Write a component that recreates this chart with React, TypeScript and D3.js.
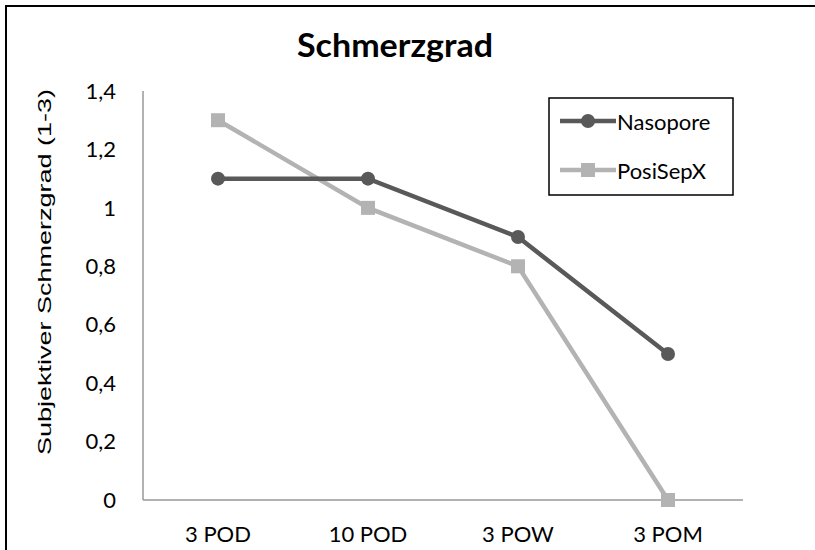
import React from 'react';
import * as d3 from 'd3';

const categories = ['3 POD', '10 POD', '3 POW', '3 POM'];
const nasopore = [1.1, 1.1, 0.9, 0.5];
const posiSepX = [1.3, 1.0, 0.8, 0.0];
const yTicks = [0, 0.2, 0.4, 0.6, 0.8, 1, 1.2, 1.4];

const width = 815;
const height = 550;
const margin = { top: 91, right: 72, bottom: 50, left: 143 };
const calibri = 'Lato, "Open Sans", sans-serif';

const App = () => {
  const x = d3.scaleBand<string>()
    .domain(categories)
    .range([margin.left, width - margin.right]);
  const y = d3.scaleLinear()
    .domain([0, 1.4])
    .range([height - margin.bottom, margin.top]);

  const cx = (c: string) => (x(c) as number) + x.bandwidth() / 2;
  const line = d3.line<number>()
    .x((_, i) => cx(categories[i]))
    .y(d => y(d));

  // Excel style decimal comma
  const fmt = (v: number) => (v === 0 || v === 1 ? String(v) : v.toFixed(1).replace('.', ','));

  const dark = '#595959';
  const light = '#b3b3b3';

  return (
    <svg width={width} height={height} style={{ position: 'absolute', left: 0, top: 0 }}>
      <rect x={6} y={6} width={width + 10} height={height + 10} fill="white" stroke="black" strokeWidth={2} />
      <text x={395} y={57} textAnchor="middle" fontFamily={calibri} fontWeight="bold" fontSize={33}
        textLength={196} lengthAdjust="spacingAndGlyphs" fill="black">
        Schmerzgrad
      </text>

      {/* axes */}
      <line x1={margin.left} x2={margin.left} y1={y(1.4)} y2={y(0)} stroke="#999" strokeWidth={1.5} />
      <line x1={margin.left} x2={width - margin.right} y1={y(0)} y2={y(0)} stroke="#999" strokeWidth={1.5} />

      {yTicks.map(t => (
        <text key={t} x={116} y={y(t)} dy="0.35em" textAnchor="end" fontFamily={calibri} fontSize={22} fill="black">
          {fmt(t)}
        </text>
      ))}
      {categories.map(c => (
        <text key={c} x={cx(c)} y={y(0) + 42} textAnchor="middle" fontFamily={calibri} fontSize={22} fill="black">
          {c}
        </text>
      ))}

      <text
        transform={`translate(51,272) rotate(-90)`}
        textAnchor="middle"
        fontFamily='"Liberation Sans", Arial, sans-serif'
        fontSize={19}
        textLength={366}
        lengthAdjust="spacingAndGlyphs"
        fill="black"
      >
        Subjektiver Schmerzgrad (1-3)
      </text>

      {/* series */}
      <path d={line(posiSepX) ?? ''} fill="none" stroke={light} strokeWidth={4.5} />
      {posiSepX.map((v, i) => (
        <rect key={i} x={cx(categories[i]) - 7} y={y(v) - 7} width={14} height={14} fill={light} />
      ))}
      <path d={line(nasopore) ?? ''} fill="none" stroke={dark} strokeWidth={4.5} />
      {nasopore.map((v, i) => (
        <circle key={i} cx={cx(categories[i])} cy={y(v)} r={7} fill={dark} />
      ))}

      {/* legend */}
      <rect x={549} y={98} width={184} height={97} fill="white" stroke="black" strokeWidth={1.5} />
      <line x1={560} x2={616} y1={121} y2={121} stroke={dark} strokeWidth={4.5} />
      <circle cx={588} cy={121} r={7} fill={dark} />
      <text x={617} y={122} dy="0.35em" fontFamily={calibri} fontSize={22} fill="black">Nasopore</text>
      <line x1={560} x2={616} y1={170} y2={170} stroke={light} strokeWidth={4.5} />
      <rect x={581} y={163} width={14} height={14} fill={light} />
      <text x={617} y={171} dy="0.35em" fontFamily={calibri} fontSize={22} fill="black">PosiSepX</text>
    </svg>
  );
};

export default App;
